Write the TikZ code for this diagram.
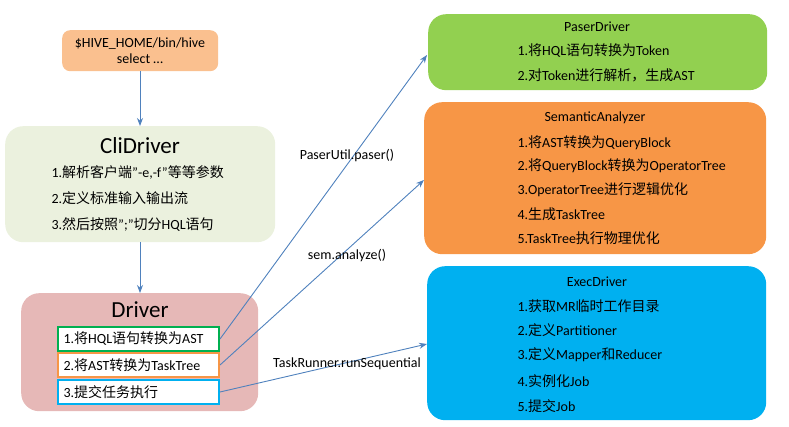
\documentclass[tikz,border=0pt]{standalone}
\usepackage{fontspec}
\setmainfont{Carlito}
\newfontfamily\zhf{Noto Sans CJK SC}
\newcommand{\zh}[1]{{\zhf #1}}
\usetikzlibrary{arrows.meta}
\definecolor{cgreen}{RGB}{146,208,80}
\definecolor{cdgreen}{RGB}{0,176,80}
\definecolor{corange}{RGB}{247,150,70}
\definecolor{cblue}{RGB}{0,176,240}
\definecolor{ccli}{RGB}{235,241,222}
\definecolor{cdrv}{RGB}{230,184,183}
\definecolor{cpeach}{RGB}{250,192,143}
\definecolor{cline}{RGB}{79,129,189}
\tikzset{
 big/.style={rounded corners=18pt,draw=none,anchor=north west},
 item/.style={font=\fontsize{14}{16}\selectfont,anchor=west},
 conn/.style={cline,line width=0.9pt},
 arr/.style={conn,-{Stealth[length=8pt,width=6pt]}},
 sub/.style={draw,line width=2pt,fill=white,anchor=north west,minimum width=161pt,minimum height=24pt},
 lbl/.style={font=\fontsize{14}{16}\selectfont}
}
\begin{document}
\begin{tikzpicture}[x=1pt,y=-1pt]
\useasboundingbox (0,0) rectangle (789,427);
% top
\node[big,rounded corners=8pt,fill=cpeach,minimum width=156pt,minimum height=41pt,inner sep=0pt] (top) at (62,30) {};
\node[lbl,align=center] (toptext) at (140,50.5) {\$HIVE\_HOME/bin/hive\\select \dots};
% CliDriver
\node[big,fill=ccli,minimum width=270pt,minimum height=116pt,inner sep=0pt] (cli) at (5,126) {};
\node[font=\fontsize{23}{25}\selectfont] (clit) at (140,146) {CliDriver};
\node[item] (c1) at (48,172) {1.\zh{解析客户端}”-e,-f”\zh{等等参数}};
\node[item] (c2) at (48,198) {2.\zh{定义标准输入输出流}};
\node[item] (c3) at (48,224) {3.\zh{然后按照}”;”\zh{切分}HQL\zh{语句}};
% Driver
\node[big,fill=cdrv,minimum width=237pt,minimum height=118pt,inner sep=0pt] (drv) at (21,293) {};
\node[font=\fontsize{23}{25}\selectfont] (drvt) at (140,310) {Driver};
\node[sub,draw=cdgreen] (d1) at (57,326) {};
\node[item] at (60,339) {1.\zh{将}HQL\zh{语句转换为}AST};
\node[sub,draw=corange] (d2) at (57,352) {};
\node[item] at (60,365) {2.\zh{将}AST\zh{转换为}TaskTree};
\node[sub,draw=cblue] (d3) at (57,379) {};
\node[item] at (60,392) {3.\zh{提交任务执行}};
% right boxes
\node[big,fill=cgreen,minimum width=339pt,minimum height=76pt,inner sep=0pt] (pd) at (428,14) {};
\node[lbl] at (597,27) {PaserDriver};
\node[item] at (514,51) {1.\zh{将}HQL\zh{语句转换为}Token};
\node[item] at (514,75) {2.\zh{对}Token\zh{进行解析，生成}AST};
\node[big,fill=corange,minimum width=342pt,minimum height=152pt,inner sep=0pt] (sa) at (424,102) {};
\node[lbl] at (595,118) {SemanticAnalyzer};
\node[item] at (514,143) {1.\zh{将}AST\zh{转换为}QueryBlock};
\node[item] at (514,166) {2.\zh{将}QueryBlock\zh{转换为}OperatorTree};
\node[item] at (514,190) {3.OperatorTree\zh{进行逻辑优化}};
\node[item] at (514,214) {4.\zh{生成}TaskTree};
\node[item] at (514,238) {5.TaskTree\zh{执行物理优化}};
\node[big,fill=cblue,minimum width=339pt,minimum height=154pt,inner sep=0pt] (ed) at (427,266) {};
\node[lbl] at (597,282) {ExecDriver};
\node[item] at (514,306) {1.\zh{获取}MR\zh{临时工作目录}};
\node[item] at (514,330) {2.\zh{定义}Partitioner};
\node[item] at (514,355) {3.\zh{定义}Mapper\zh{和}Reducer};
\node[item] at (514,381) {4.\zh{实例化}Job};
\node[item] at (514,406) {5.\zh{提交}Job};
% connectors
\coordinate (pe) at (427,55);
\coordinate (se) at (424,180);
\coordinate (ee) at (427,344);
\coordinate (ta) at (140,71);
\coordinate (ca) at (140,126);
\coordinate (cb) at (140,242);
\coordinate (da) at (140,293);
\draw[arr] (ta) -- (ca);
\draw[arr] (cb) -- (da);
\draw[arr] (d1.east) -- (pe);
\draw[arr] (d2.east) -- (se);
\draw[arr] (d3.east) -- (ee);
\node[lbl] (l1) at (347,156) {PaserUtil.paser()};
\node[lbl] (l2) at (347,256) {sem.analyze()};
\node[lbl] (l3) at (347,364) {TaskRunner.runSequential};
\end{tikzpicture}
\end{document}
